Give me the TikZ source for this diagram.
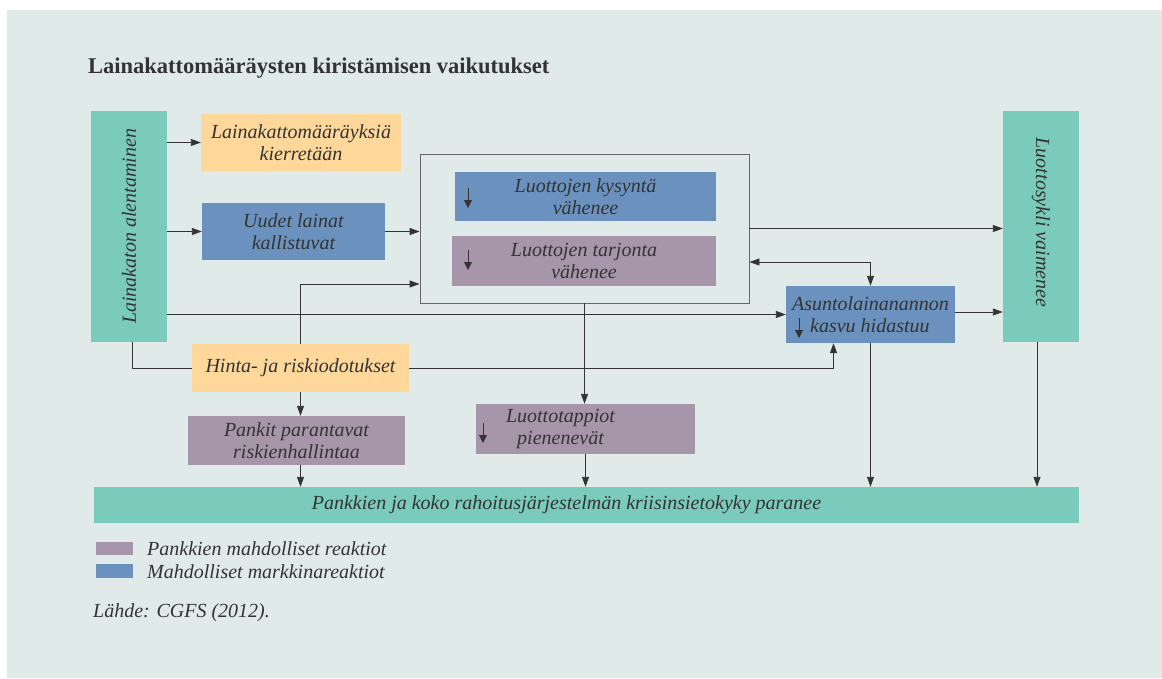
\documentclass[tikz,border=0pt]{standalone}
\usepackage{fontspec}
\setmainfont{Liberation Serif}
\usepackage{xcolor}
\usetikzlibrary{arrows.meta}
\usetikzlibrary{calc}
\usetikzlibrary{positioning}

\definecolor{bgpanel}{HTML}{E0EAE8}
\definecolor{boxgreen}{HTML}{7ACBBB}
\definecolor{boxorange}{HTML}{FED89B}
\definecolor{boxblue}{HTML}{6B92BF}
\definecolor{boxpurple}{HTML}{A796AA}
\definecolor{linegray}{HTML}{333333}

\tikzset{
  fillbox/.style={inner sep=0pt, align=center, text=linegray, font=\itshape\fontsize{20}{22}\selectfont},
  greenbox/.style={fillbox, fill=boxgreen},
  orangebox/.style={fillbox, fill=boxorange},
  bluebox/.style={fillbox, fill=boxblue},
  purplebox/.style={fillbox, fill=boxpurple},
  legtext/.style={text=linegray, inner sep=0pt, font=\itshape\fontsize{20}{22}\selectfont},
  conn/.style={draw=linegray, line width=0.9pt},
  downarr/.pic={\draw[conn, -{Triangle[length=8pt,width=8pt]}] (0,0) -- (0,20);}
}

\begin{document}
\begin{tikzpicture}[x=1pt, y=-1pt, >={Triangle[length=10pt,width=7pt]}]
  \fill[white] (0,0) rectangle (1162,678);
  \fill[bgpanel] (7,10) rectangle (1162,678);
  \useasboundingbox (0,0) rectangle (1162,678);

  \node[anchor=base west, inner sep=0pt, text=linegray, font=\bfseries\fontsize{22.5}{26}\selectfont] (otsikko) at (88,73) {Lainakattomääräysten kiristämisen vaikutukset};

  \node[greenbox, minimum width=76pt, minimum height=231pt] (alent) at (129,226.5) {\rotatebox{90}{Lainakaton alentaminen}};
  \node[orangebox, minimum width=200pt, minimum height=57pt] (kierr) at (301,142.5) {Lainakattomääräyksiä\\kierretään};
  \node[bluebox, minimum width=183pt, minimum height=57pt] (uudet) at (293.5,231.5) {Uudet lainat\\kallistuvat};
  \node[draw=gray!80!black, line width=0.9pt, inner sep=0pt, minimum width=329pt, minimum height=149pt] (luotot) at (584.5,228.5) {};
  \node[bluebox, minimum width=261pt, minimum height=49pt] (kysynta) at (585.5,196.5) {Luottojen kysyntä\\vähenee};
  \node[purplebox, minimum width=264pt, minimum height=50pt] (tarjonta) at (584,261) {Luottojen tarjonta\\vähenee};
  \node[greenbox, minimum width=76pt, minimum height=231pt] (sykli) at (1041,226.5) {\rotatebox{-90}{Luottosykli vaimenee\hspace*{8pt}}};
  \node[bluebox, align=left, minimum width=169pt, minimum height=57pt] (asunto) at (870.5,314.5) {Asuntolainanannon\\\hspace*{18pt}kasvu hidastuu};
  \node[orangebox, minimum width=217pt, minimum height=48pt] (odotus) at (300.5,368) {Hinta- ja riskiodotukset};
  \node[purplebox, minimum width=217pt, minimum height=49pt] (pankit) at (296.5,440.5) {Pankit parantavat\\riskienhallintaa};
  \node[purplebox, minimum width=219pt, minimum height=50pt] (tappiot) at (585.5,429) {Luottotappiot\hspace*{50pt}\\pienenevät\hspace*{50pt}};
  \node[greenbox, minimum width=985pt, minimum height=36pt] (sieto) at (586.5,505) {Pankkien ja koko rahoitusjärjestelmän kriisinsietokyky paranee\hspace*{40pt}};

  \pic at (468,188) {downarr};
  \pic at (468,250) {downarr};
  \pic at (799,318) {downarr};
  \pic at (483,423) {downarr};

  \draw [conn,->] (alent.east |- kierr.west) -- (kierr.west);
  \draw [conn,->] (alent.east |- uudet.west) -- (uudet.west);
  \draw [conn,->] (uudet.east) -- (luotot.west |- uudet.east);
  \draw [conn,->] (odotus.north) |- ([yshift=-55.5pt]luotot.west);
  \draw [conn,->] (alent.east |- asunto.west) -- (asunto.west);
  \draw [conn] ([xshift=3pt]alent.south) |- (odotus.west);
  \draw [conn,->] (odotus.east) -| ([xshift=-37pt]asunto.south);
  \draw [conn,->] (odotus.south) -- (odotus.south |- pankit.north);
  \draw [conn,->] (odotus.south |- pankit.south) -- (odotus.south |- sieto.north);
  \draw [conn,->] (luotot.south) -- (luotot.south |- tappiot.north);
  \draw [conn,->] (tappiot.south) -- (tappiot.south |- sieto.north);
  \draw [conn,->] (luotot.east) -- (sykli.west |- luotot.east);
  \draw [conn,<->] ([yshift=-33.5pt]luotot.east) -| (asunto.north);
  \draw [conn,->] ([yshift=2.5pt]asunto.east) -- ([yshift=2.5pt]sykli.west |- asunto.east);
  \draw [conn,->] (asunto.south) -- (asunto.south |- sieto.north);
  \draw [conn,->] ([xshift=-4pt]sykli.south) -- ([xshift=-4pt]sykli.south |- sieto.north);

  \node[fill=boxpurple, inner sep=0pt, minimum width=37pt, minimum height=13pt] (legpankki) at (114.5,548.5) {};
  \node[fill=boxblue, inner sep=0pt, minimum width=37pt, minimum height=14pt] (legmarkkina) at (114.5,571) {};
  \node[legtext, anchor=base west] (legpankkiteksti) at (147,555) {Pankkien mahdolliset reaktiot};
  \node[legtext, anchor=base west] (legmarkkinateksti) at (147,578) {Mahdolliset markkinareaktiot};
  \node[legtext, anchor=base west] (lahde) at (93,617) {Lähde: CGFS (2012).};
\end{tikzpicture}
\end{document}
